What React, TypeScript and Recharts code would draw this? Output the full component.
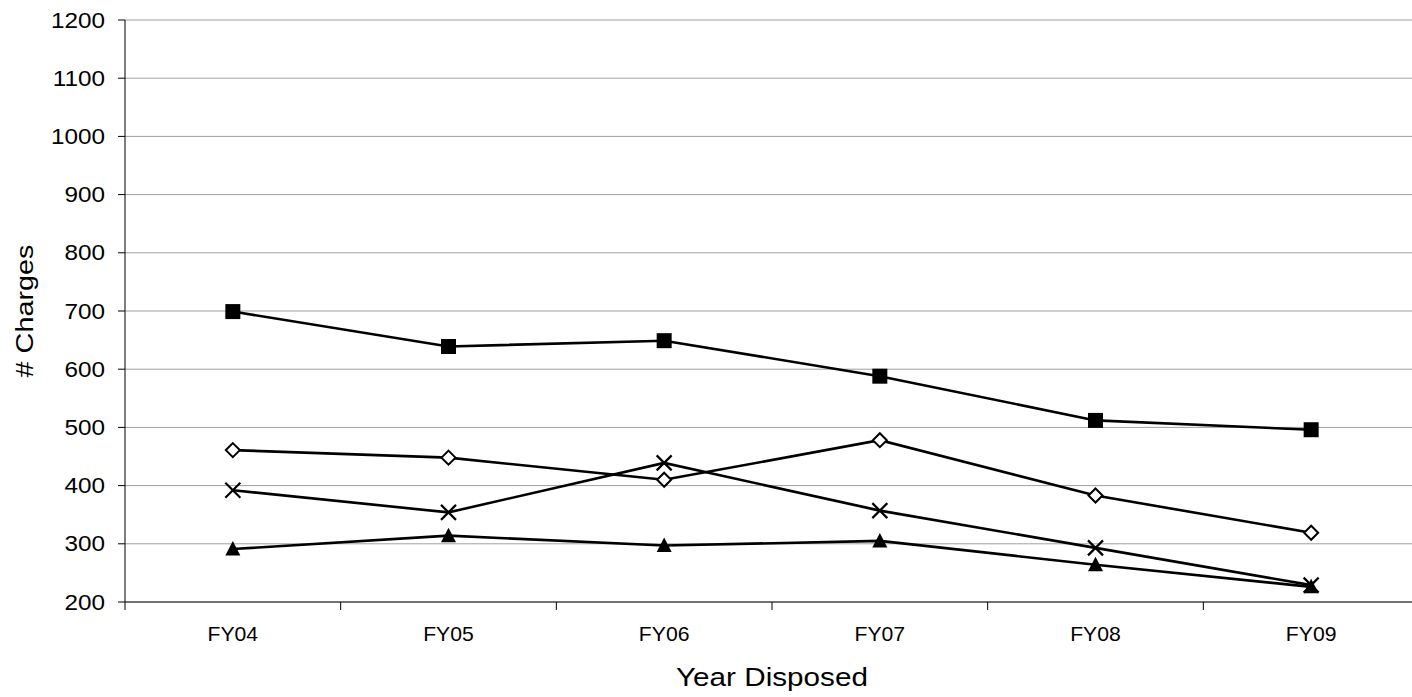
import React from "react"
import { LineChart, Line, XAxis, YAxis, CartesianGrid } from "recharts"

const categories = ["FY04", "FY05", "FY06", "FY07", "FY08", "FY09"]
const squareSeries = [699, 639, 649, 588, 512, 496]
const diamondSeries = [461, 448, 410, 478, 383, 319]
const crossSeries = [392, 354, 439, 357, 293, 229]
const triangleSeries = [291, 314, 297, 305, 264, 226]
const yTicks = [200, 300, 400, 500, 600, 700, 800, 900, 1000, 1100, 1200]

const data = categories.map((name, i) => ({
  idx: i,
  name,
  square: squareSeries[i],
  diamond: diamondSeries[i],
  cross: crossSeries[i],
  triangle: triangleSeries[i],
}))

// label ticks at the centers, short tick marks at the category boundaries
const xTicks: number[] = []
for (let i = 0; i <= categories.length * 2; i++) xTicks.push(i / 2 - 0.5)

const FONT = "'Liberation Sans', Arial, sans-serif"

// the source image is a bit stretched, so text is widened along its length
const StretchText = ({ x, y, sx, size, anchor, rotate, children }: any) => (
  <text
    transform={`translate(${x} ${y})${rotate ? " rotate(-90)" : ""} scale(${sx} 1)`}
    x={0}
    y={0}
    textAnchor={anchor}
    dominantBaseline="central"
    fontSize={size}
    fontFamily={FONT}
    fill="#000"
  >
    {children}
  </text>
)

const XTick = (props: any) => {
  const { x, y, payload } = props
  const v = payload.value
  if (Number.isInteger(v)) {
    return (
      <StretchText x={x} y={y + 32} sx={1.06} size={20} anchor="middle">
        {categories[v]}
      </StretchText>
    )
  }
  return <line x1={x} x2={x} y1={y} y2={y + 8} stroke="#000" strokeWidth={1} />
}

const YTick = (props: any) => {
  const { x, y, payload } = props
  return (
    <StretchText x={x} y={y} sx={1.08} size={22.5} anchor="end">
      {payload.value}
    </StretchText>
  )
}

const SquareDot = (props: any) => {
  const { cx, cy, index } = props
  return <rect key={`sq-${index}`} x={cx - 7.5} y={cy - 7.5} width={15} height={15} fill="#000" />
}

const DiamondDot = (props: any) => {
  const { cx, cy, index } = props
  const r = 7
  return (
    <path
      key={`di-${index}`}
      d={`M${cx},${cy - r} L${cx + r},${cy} L${cx},${cy + r} L${cx - r},${cy} Z`}
      fill="#fff"
      stroke="#000"
      strokeWidth={2}
    />
  )
}

const CrossDot = (props: any) => {
  const { cx, cy, index } = props
  const r = 7.5
  return (
    <path
      key={`cr-${index}`}
      d={`M${cx - r},${cy - r} L${cx + r},${cy + r} M${cx + r},${cy - r} L${cx - r},${cy + r}`}
      stroke="#000"
      strokeWidth={2.2}
      fill="none"
    />
  )
}

const TriangleDot = (props: any) => {
  const { cx, cy, index } = props
  return (
    <path
      key={`tr-${index}`}
      d={`M${cx},${cy - 8} L${cx + 7.5},${cy + 6.5} L${cx - 7.5},${cy + 6.5} Z`}
      fill="#000"
    />
  )
}

export default function App() {
  return (
    <div
      style={{
        position: "fixed",
        left: 0,
        top: 0,
        width: 1412,
        height: 697,
        overflow: "hidden",
        background: "#fff",
        fontFamily: FONT,
      }}
    >
      <LineChart width={1440} height={697} data={data} margin={{ top: 20, right: 21, left: 0, bottom: 0 }}>
        <CartesianGrid vertical={false} stroke="#a0a0a0" strokeWidth={1} />
        <XAxis
          dataKey="idx"
          type="number"
          domain={[-0.5, 5.5]}
          ticks={xTicks}
          interval={0}
          height={95}
          tickLine={false}
          tickSize={0}
          tickMargin={0}
          tick={<XTick />}
          axisLine={{ stroke: "#555", strokeWidth: 1.5 }}
          label={{
            content: (p: any) => {
              const vb = p.viewBox
              return (
                <StretchText x={vb.x + vb.width / 2} y={vb.y + 75} sx={1.12} size={26.5} anchor="middle">
                  Year Disposed
                </StretchText>
              )
            },
          }}
        />
        <YAxis
          type="number"
          domain={[200, 1200]}
          ticks={yTicks}
          interval={0}
          width={125}
          tickSize={7}
          tickMargin={13}
          tickLine={{ stroke: "#000" }}
          axisLine={{ stroke: "#000" }}
          tick={<YTick />}
          label={{
            content: (p: any) => {
              const vb = p.viewBox
              return (
                <StretchText x={25} y={vb.y + vb.height / 2} sx={1.2} size={24} anchor="middle" rotate>
                  # Charges
                </StretchText>
              )
            },
          }}
        />
        <Line dataKey="square" stroke="#000" strokeWidth={2.6} dot={SquareDot} isAnimationActive={false} />
        <Line dataKey="diamond" stroke="#000" strokeWidth={2.6} dot={DiamondDot} isAnimationActive={false} />
        <Line dataKey="cross" stroke="#000" strokeWidth={2.6} dot={CrossDot} isAnimationActive={false} />
        <Line dataKey="triangle" stroke="#000" strokeWidth={2.6} dot={TriangleDot} isAnimationActive={false} />
      </LineChart>
    </div>
  )
}
